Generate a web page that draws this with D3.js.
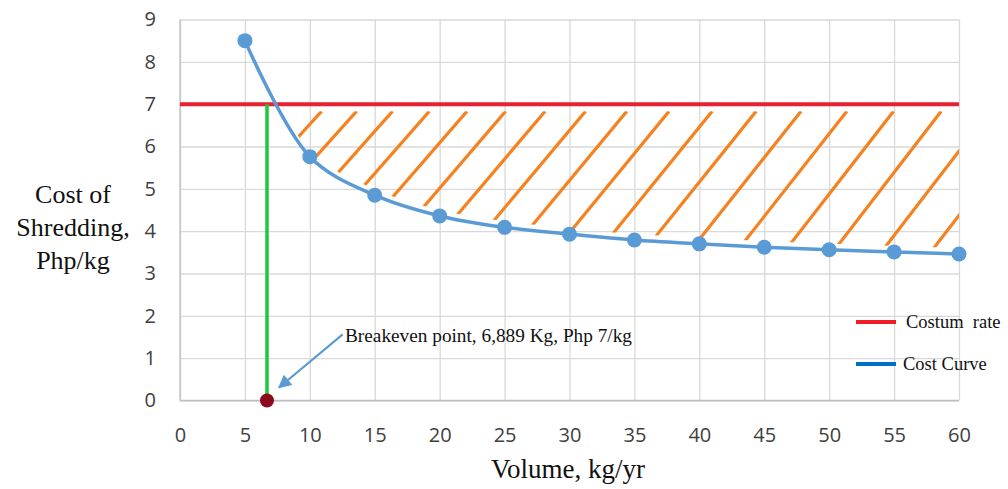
<!DOCTYPE html>
<html>
<head>
<meta charset="utf-8">
<script src="https://cdn.jsdelivr.net/npm/d3@7"></script>
<style>
  body { margin: 0; background: #fff; }
  svg { display: block; }
</style>
</head>
<body>
<svg id="chart"></svg>
<script>
// data
const volumes = [5, 10, 15, 20, 25, 30, 35, 40, 45, 50, 55, 60];
const costs = [8.5, 5.76, 4.85, 4.36, 4.09, 3.93, 3.79, 3.70, 3.62, 3.56, 3.51, 3.46];
const customRate = 7;
const breakeven = { volume: 6.7, cost: 0, label: 'Breakeven point, 6,889 Kg, Php 7/kg' };
const xTicks = [0, 5, 10, 15, 20, 25, 30, 35, 40, 45, 50, 55, 60];
const yTicks = [0, 1, 2, 3, 4, 5, 6, 7, 8, 9];
const legendNames = ['Costum  rate', 'Cost Curve'];

const width = 1008, height = 489;
const plot = { left: 180, right: 959, top: 19.5, bottom: 400.5 };

const svg = d3.select('#chart')
    .attr('width', width)
    .attr('height', height);

const x = d3.scaleLinear().domain([0, 60]).range([plot.left, plot.right]);
const y = d3.scaleLinear().domain([0, 9]).range([plot.bottom, plot.top]);

const serif = '"Liberation Serif", "Times New Roman", serif';
const sans = '"Open Sans", "Liberation Sans", sans-serif';

// gridlines
svg.append('g')
    .attr('transform', `translate(0, ${plot.bottom})`)
    .call(d3.axisBottom(x).tickValues(xTicks).tickSize(-(plot.bottom - plot.top)).tickFormat(''))
    .call(g => g.select('.domain').remove())
    .call(g => g.selectAll('line').attr('stroke', '#d9d9d9').attr('stroke-width', 1.3));

svg.append('g')
    .attr('transform', `translate(${plot.left}, 0)`)
    .call(d3.axisLeft(y).tickValues(yTicks).tickSize(-(plot.right - plot.left)).tickFormat(''))
    .call(g => g.select('.domain').remove())
    .call(g => g.selectAll('line').attr('stroke', '#d9d9d9').attr('stroke-width', 1.3));

// axis lines
svg.append('line')
    .attr('x1', plot.left).attr('x2', plot.left)
    .attr('y1', plot.top).attr('y2', plot.bottom)
    .attr('stroke', '#bfbfbf').attr('stroke-width', 1.3);
svg.append('line')
    .attr('x1', plot.left).attr('x2', plot.right)
    .attr('y1', plot.bottom).attr('y2', plot.bottom)
    .attr('stroke', '#bfbfbf').attr('stroke-width', 1.3);

// tick labels
svg.append('g')
    .attr('transform', `translate(0, ${plot.bottom})`)
    .call(d3.axisBottom(x).tickValues(xTicks).tickSize(0).tickPadding(27))
    .call(g => g.select('.domain').remove())
    .call(g => g.selectAll('text')
        .attr('font-family', sans).attr('font-size', 20).attr('fill', '#404040'));

svg.append('g')
    .attr('transform', `translate(${plot.left}, 0)`)
    .call(d3.axisLeft(y).tickValues(yTicks).tickSize(0).tickPadding(24))
    .call(g => g.select('.domain').remove())
    .call(g => g.selectAll('text')
        .attr('font-family', sans).attr('font-size', 20).attr('fill', '#404040'));

// axis titles
const yTitle = svg.append('text')
    .attr('font-family', serif)
    .attr('font-size', 26)
    .attr('text-anchor', 'middle')
    .attr('fill', '#111');
['Cost of', 'Shredding,', 'Php/kg'].forEach((t, i) => {
    yTitle.append('tspan').attr('x', 73).attr('y', 203 + i * 33).text(t);
});

svg.append('text')
    .attr('x', 568).attr('y', 478)
    .attr('font-family', serif)
    .attr('font-size', 27)
    .attr('text-anchor', 'middle')
    .attr('fill', '#111')
    .text('Volume, kg/yr');

// hatch between the cost curve and the custom rate
const defs = svg.append('defs');
const curve = d3.curveCatmullRom.alpha(0.5);
const points = volumes.map((v, i) => ({ v, c: costs[i] }));

defs.append('clipPath').attr('id', 'above-curve')
    .append('path')
    .attr('d', d3.area()
        .curve(curve)
        .x(d => x(d.v))
        .y0(d => y(d.c) - 6)
        .y1(-50)(points));

defs.append('clipPath').attr('id', 'below-rate')
    .append('rect')
    .attr('x', plot.left)
    .attr('y', y(customRate) + 7)
    .attr('width', x(60) + 2 - plot.left)
    .attr('height', plot.bottom - y(customRate));

const hatchTop = y(customRate) + 7;
const hatch = d3.range(20).map(i => {
    const t = 321.7 + 35 * i + 0.45 * i * (i - 1);
    const s = 1.1 + 0.2 * Math.min(i, 15) / 15;
    return { x1: t, y1: hatchTop, x2: t - (plot.bottom - hatchTop) / s, y2: plot.bottom };
});

svg.append('g')
    .attr('clip-path', 'url(#below-rate)')
    .append('g')
    .attr('clip-path', 'url(#above-curve)')
    .selectAll('line')
    .data(hatch)
    .join('line')
    .attr('x1', d => d.x1).attr('y1', d => d.y1)
    .attr('x2', d => d.x2).attr('y2', d => d.y2)
    .attr('stroke', '#f58220')
    .attr('stroke-width', 3.2);

// custom rate line
svg.append('line')
    .attr('x1', x(0)).attr('x2', x(60))
    .attr('y1', y(customRate)).attr('y2', y(customRate))
    .attr('stroke', '#e8202f')
    .attr('stroke-width', 4);

// breakeven vertical
svg.append('line')
    .attr('x1', x(breakeven.volume)).attr('x2', x(breakeven.volume))
    .attr('y1', y(customRate)).attr('y2', y(0))
    .attr('stroke', '#1ec83c')
    .attr('stroke-width', 3.5);

// cost curve
svg.append('path')
    .datum(points)
    .attr('d', d3.line().curve(curve).x(d => x(d.v)).y(d => y(d.c)))
    .attr('fill', 'none')
    .attr('stroke', '#5b9bd5')
    .attr('stroke-width', 3.5);

svg.append('g')
    .selectAll('circle')
    .data(points)
    .join('circle')
    .attr('cx', d => x(d.v))
    .attr('cy', d => y(d.c))
    .attr('r', 7.5)
    .attr('fill', '#5b9bd5');

// breakeven point
svg.append('circle')
    .attr('cx', x(breakeven.volume))
    .attr('cy', y(breakeven.cost))
    .attr('r', 7)
    .attr('fill', '#8b0a1e');

// annotation arrow
defs.append('marker')
    .attr('id', 'arrow')
    .attr('viewBox', '0 0 10 10')
    .attr('refX', 9).attr('refY', 5)
    .attr('markerWidth', 7).attr('markerHeight', 6)
    .attr('orient', 'auto')
    .append('path')
    .attr('d', 'M0,0 L10,5 L0,10 Z')
    .attr('fill', '#5b9bd5');

svg.append('line')
    .attr('x1', 342.7).attr('y1', 334.3)
    .attr('x2', x(breakeven.volume) + 12).attr('y2', y(breakeven.cost) - 13)
    .attr('stroke', '#5b9bd5')
    .attr('stroke-width', 2.2)
    .attr('marker-end', 'url(#arrow)');

svg.append('text')
    .attr('x', 345).attr('y', 342)
    .attr('font-family', serif)
    .attr('font-size', 18)
    .attr('fill', '#111')
    .attr('textLength', 287)
    .attr('lengthAdjust', 'spacingAndGlyphs')
    .text(breakeven.label);

// legend
const legendColors = ['#ee1c25', '#0070c0'];
const legend = svg.append('g')
    .selectAll('g')
    .data(legendNames)
    .join('g')
    .attr('transform', (d, i) => `translate(856, ${322 + i * 42})`);

legend.append('line')
    .attr('x1', 0).attr('x2', 40)
    .attr('stroke', (d, i) => legendColors[i])
    .attr('stroke-width', 4);

legend.append('text')
    .attr('x', (d, i) => i === 0 ? 50 : 47)
    .attr('y', 6)
    .attr('font-family', serif)
    .attr('font-size', 18.5)
    .attr('fill', '#111')
    .attr('xml:space', 'preserve')
    .style('white-space', 'pre')
    .text(d => d);
</script>
</body>
</html>
